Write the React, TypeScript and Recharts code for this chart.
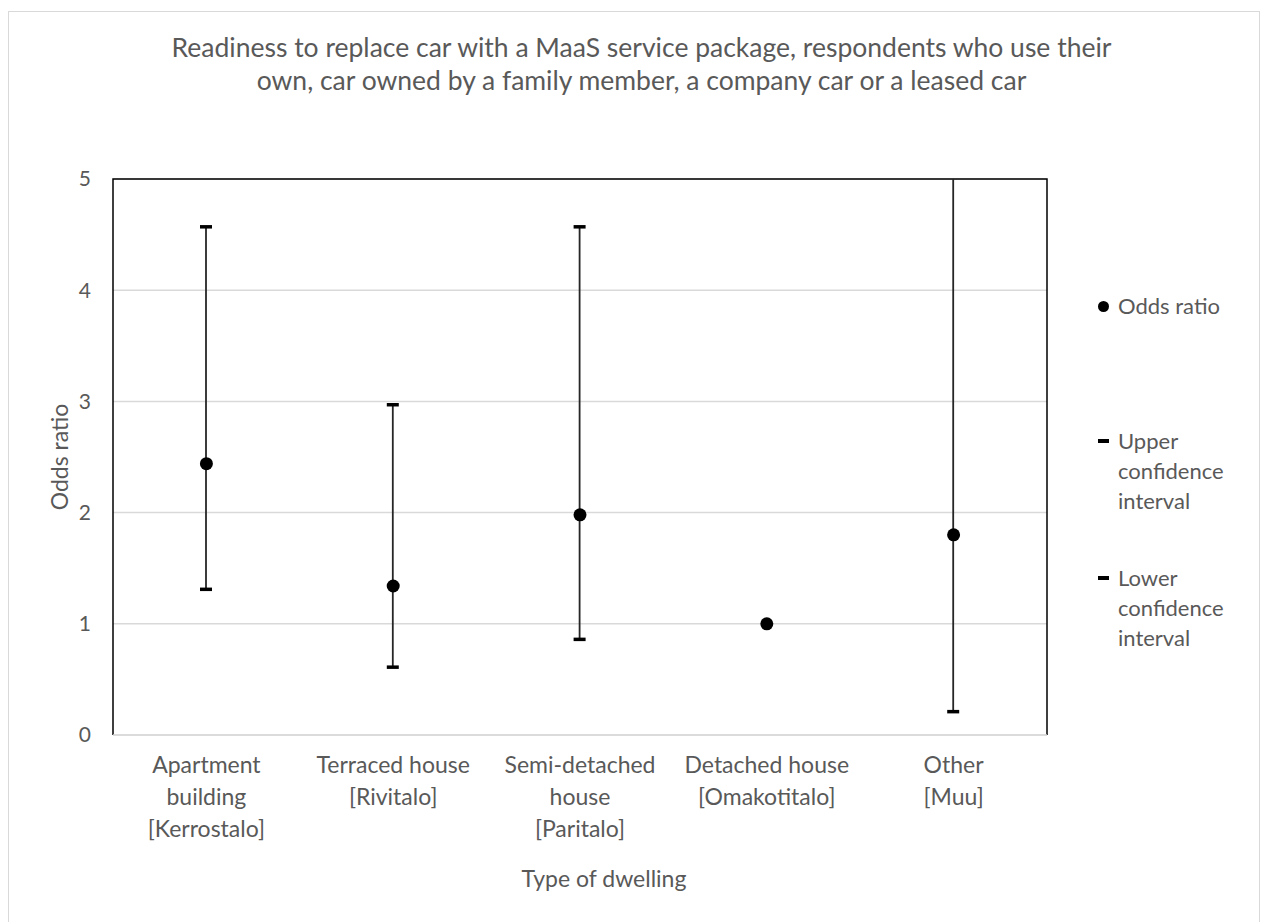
import React from 'react';
import {
  Bar,
  CartesianGrid,
  ComposedChart,
  Legend,
  ReferenceArea,
  Scatter,
  XAxis,
  YAxis,
} from 'recharts';

const dwellings = [
  'Apartment\nbuilding\n[Kerrostalo]',
  'Terraced house\n[Rivitalo]',
  'Semi-detached\nhouse\n[Paritalo]',
  'Detached house\n[Omakotitalo]',
  'Other\n[Muu]',
];
const oddsRatio = [2.44, 1.34, 1.98, 1.0, 1.8];
const lowerCI = [1.31, 0.61, 0.86, null, 0.21];
// upper limit of "Other" runs off the top of the 0-5 axis
const upperCI = [4.57, 2.97, 4.57, null, 9.6];
const yTicks = [0, 1, 2, 3, 4, 5];

const data = dwellings.map((name, i) => ({
  name,
  or: oddsRatio[i],
  ci: lowerCI[i] == null ? null : [lowerCI[i], upperCI[i]],
}));

const FONT = 'Lato, "Noto Sans", sans-serif';
const TEXT = '#595959';

const DwellingTick: React.FC<any> = ({ x, y, payload }) => {
  const lines = String(payload.value).split('\n');
  return (
    <text x={x} y={y} textAnchor='middle' fill={TEXT} fontSize={23} fontFamily={FONT}>
      {lines.map((l, i) => (
        <tspan key={i} x={x} dy={i === 0 ? 30 : 32}>
          {l}
        </tspan>
      ))}
    </text>
  );
};

const Whisker: React.FC<any> = ({ x, y, width, height, background }) => {
  if (height == null || isNaN(y)) return null;
  const cx = x + width / 2;
  const top = background ? Math.max(y, background.y) : y;
  const bottom = y + height;
  const cap = 6;
  return (
    <g>
      <line x1={cx} x2={cx} y1={top} y2={bottom} stroke='#262626' strokeWidth={1.8} />
      {top === y && (
        <line x1={cx - cap} x2={cx + cap} y1={y} y2={y} stroke='#000' strokeWidth={3.5} />
      )}
      <line x1={cx - cap} x2={cx + cap} y1={bottom} y2={bottom} stroke='#000' strokeWidth={3.5} />
    </g>
  );
};

const Dot: React.FC<any> = ({ cx, cy }) => <circle cx={cx} cy={cy} r={6.5} fill='#000' />;

// plot frame: black on top, left and right, the bottom stays the grey category axis
const Frame: React.FC<any> = ({ x, y, width, height }) => (
  <path
    d={`M${x},${y + height} L${x},${y} L${x + width},${y} L${x + width},${y + height}`}
    fill='none'
    stroke='#000'
    strokeWidth={1.5}
  />
);

const LegendBox: React.FC = () => {
  const row = (mark: React.ReactNode, lines: string[], top: number) => (
    <div style={{ position: 'absolute', top, left: 0, display: 'flex' }}>
      <div style={{ width: 20, height: 30, display: 'flex', alignItems: 'center' }}>{mark}</div>
      <div style={{ lineHeight: '30px' }}>
        {lines.map((l) => (
          <div key={l}>{l}</div>
        ))}
      </div>
    </div>
  );
  const dash = <div style={{ width: 11, height: 4, background: '#000' }} />;
  const dot = <div style={{ width: 11, height: 11, borderRadius: '50%', background: '#000' }} />;
  return (
    <div style={{ position: 'relative', width: 160, height: 360, fontFamily: FONT, fontSize: 22, color: TEXT }}>
      {row(dot, ['Odds ratio'], 0)}
      {row(dash, ['Upper', 'confidence', 'interval'], 135)}
      {row(dash, ['Lower', 'confidence', 'interval'], 272)}
    </div>
  );
};

const App: React.FC = () => {
  return (
    <div style={{ position: 'absolute', left: 0, top: 0, width: 1263, height: 922, background: '#fff' }}>
      <div
        style={{
          position: 'absolute',
          left: 8,
          top: 11,
          width: 1250,
          height: 920,
          border: '1px solid #d9d9d9',
        }}
      />
      <div
        style={{
          position: 'absolute',
          left: 20,
          top: 31,
          width: 1243,
          textAlign: 'center',
          fontFamily: FONT,
          fontSize: 26.5,
          lineHeight: '33px',
          color: TEXT,
        }}
      >
        Readiness to replace car with a MaaS service package, respondents who use their
        <br />
        own, car owned by a family member, a company car or a leased car
      </div>
      <div style={{ position: 'absolute', left: 0, top: 0 }}>
        <ComposedChart
          width={1263}
          height={922}
          data={data}
          margin={{ top: 179, right: 216, left: 0, bottom: 0 }}
        >
          <CartesianGrid vertical={false} stroke='#d9d9d9' strokeWidth={1.5} />
          <XAxis
            dataKey='name'
            height={187}
            tickLine={false}
            axisLine={{ stroke: '#d9d9d9', strokeWidth: 1.5 }}
            tick={<DwellingTick />}
            interval={0}
            label={{
              value: 'Type of dwelling',
              position: 'insideBottom',
              offset: 35,
              dx: 24,
              fill: TEXT,
              fontSize: 23,
              fontFamily: FONT,
            }}
          />
          <YAxis
            domain={[0, 5]}
            ticks={yTicks}
            allowDataOverflow
            width={113}
            tickLine={false}
            tickSize={6}
            tickMargin={16}
            axisLine={false}
            tick={{ fill: TEXT, fontSize: 21, fontFamily: FONT }}
            label={{
              value: 'Odds ratio',
              angle: -90,
              position: 'insideLeft',
              offset: 60,
              fill: TEXT,
              fontSize: 23,
              fontFamily: FONT,
              style: { textAnchor: 'middle' },
            }}
          />
          <ReferenceArea y1={0} y2={5} shape={<Frame />} ifOverflow='visible' />
          <Bar dataKey='ci' barSize={12} shape={<Whisker />} isAnimationActive={false} />
          <Scatter dataKey='or' fill='#000' shape={<Dot />} isAnimationActive={false} />
          <Legend
            layout='horizontal'
            verticalAlign='middle'
            align='center'
            content={<LegendBox />}
            wrapperStyle={{ position: 'absolute', left: 1098, top: 291, width: 160 }}
          />
        </ComposedChart>
      </div>
    </div>
  );
};

export default App;
